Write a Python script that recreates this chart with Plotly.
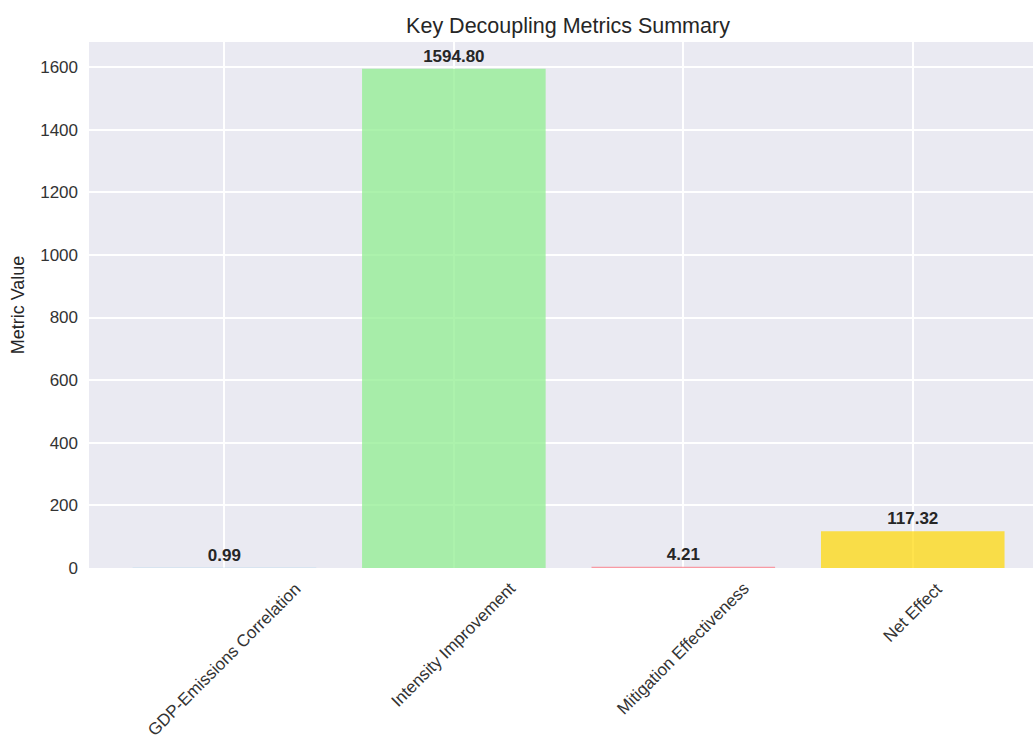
import plotly.graph_objects as go

# Summary metrics for decoupling analysis
metrics = ["GDP-Emissions Correlation", "Intensity Improvement",
           "Mitigation Effectiveness", "Net Effect"]
values = [0.99, 1594.80, 4.21, 117.32]
bar_colors = ["rgba(135,206,235,0.7)", "rgba(144,238,144,0.75)",
              "rgba(250,140,150,0.85)", "rgba(255,215,0,0.7)"]
y_ticks = [0, 200, 400, 600, 800, 1000, 1200, 1400, 1600]

font_family = "Liberation Sans, Arial, sans-serif"

fig = go.Figure(go.Bar(
    x=metrics,
    y=values,
    width=0.8,
    marker=dict(color=bar_colors, line=dict(width=0)),
    text=[f"<b>{v:.2f}</b>" for v in values],
    textposition="outside",
    cliponaxis=False,
    textfont=dict(family=font_family, size=17, color="#262626"),
))

# Category labels rotated 45 degrees and centred under each bar
for name in metrics:
    fig.add_annotation(
        x=name, xref="x",
        y=0, yref="paper",
        text=name,
        textangle=-45,
        showarrow=False,
        xanchor="center",
        yanchor="top",
        yshift=-8,
        font=dict(family=font_family, size=17, color="#333333"),
    )

fig.update_layout(
    width=1033,
    height=740,
    margin=dict(l=89, r=0, t=42, b=172),
    paper_bgcolor="white",
    plot_bgcolor="#eaeaf2",
    font=dict(family=font_family, color="#333333", size=17),
    showlegend=False,
    bargap=0.2,
    title=dict(
        text="Key Decoupling Metrics Summary",
        x=568 / 1033,
        xref="container",
        xanchor="center",
        y=1 - 25 / 740,
        yref="container",
        yanchor="middle",
        font=dict(size=21.5, color="#262626"),
    ),
    xaxis=dict(
        range=[-0.59, 3.524],
        showgrid=True,
        gridcolor="white",
        gridwidth=1.5,
        showticklabels=False,
        ticks="",
        zeroline=False,
    ),
    yaxis=dict(
        range=[0, 1680],
        tickvals=y_ticks,
        showgrid=True,
        gridcolor="white",
        gridwidth=1.5,
        zeroline=False,
        ticks="",
        ticklabelstandoff=10,
        tickfont=dict(size=17, color="#333333"),
        title=dict(text="Metric Value", font=dict(size=18, color="#262626"), standoff=10),
    ),
)

fig.write_html("out.html")
